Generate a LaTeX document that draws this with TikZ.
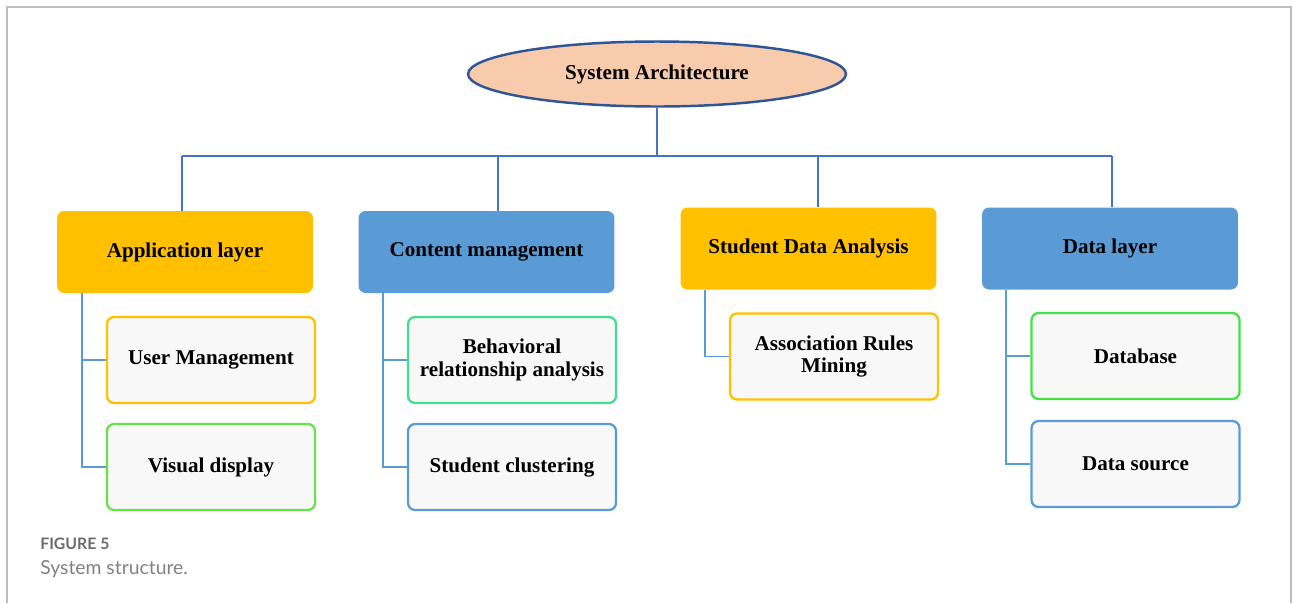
\documentclass[tikz,border=0pt]{standalone}
\usepackage{fontspec}
\setmainfont{Liberation Serif}
\newfontfamily\capfont{Lato}
\usepackage{tikz}
\usetikzlibrary{shapes.geometric}
\definecolor{peach}{HTML}{F8CBAD}
\definecolor{sysblue}{HTML}{2F5597}
\definecolor{busblue}{HTML}{4472C4}
\definecolor{gold}{HTML}{FFC000}
\definecolor{steel}{HTML}{5B9BD5}
\definecolor{boxgray}{HTML}{F8F8F8}
\definecolor{vgreen}{HTML}{66E24A}
\definecolor{tgreen}{HTML}{42DC92}
\definecolor{dgreen}{HTML}{45E245}
\definecolor{framegray}{HTML}{BDBDBD}
\definecolor{capgray}{HTML}{6B6B6B}

\begin{document}
\begin{tikzpicture}[x=0.02cm, y=-0.02cm,
  every node/.style={font=\fontsize{12}{13}\selectfont\bfseries, align=center},
  layerbox/.style={rectangle, rounded corners=4pt, minimum width=5.12cm, minimum height=1.64cm},
  itembox/.style={rectangle, rounded corners=4pt, line width=1.3pt, fill=boxgray,
                  minimum width=4.16cm, minimum height=1.72cm},
  bus/.style={draw=busblue, line width=0.9pt},
  link/.style={draw=steel, line width=1.1pt}]
\useasboundingbox (0,0) rectangle (1293,603);
% frame
\draw[framegray, line width=1.2pt] (7,603) -- (7,7) -- (1291,7) -- (1291,603);
% top
\node[ellipse, draw=sysblue, line width=1.4pt, fill=peach,
      minimum width=7.56cm, minimum height=1.3cm] (sys) at (657,74) {System Architecture};
% layers
\node[layerbox, fill=gold]  (app) at (185,252)    {Application layer};
\node[layerbox, fill=steel] (cm)  at (486.5,252)  {Content management};
\node[layerbox, fill=gold]  (sda) at (808.5,248.5) {Student Data Analysis};
\node[layerbox, fill=steel] (dl)  at (1110,248.5) {Data layer};
% items
\node[itembox, draw=gold]   (um)  at (211,360)     {User Management};
\node[itembox, draw=vgreen] (vd)  at (211,467)     {Visual display};
\node[itembox, draw=tgreen] (bra) at (512,360)     {Behavioral\\relationship analysis};
\node[itembox, draw=steel]  (sc)  at (512,467)     {Student clustering};
\node[itembox, draw=gold]   (arm) at (834,356.5)   {Association Rules\\Mining};
\node[itembox, draw=dgreen] (db)  at (1135.5,356)  {Database};
\node[itembox, draw=steel]  (ds)  at (1135.5,464)  {Data source};
% bus
\coordinate (hub) at (657,156);
\foreach \n/\x in {app/182, cm/498, sda/818, dl/1112}{
  \coordinate (d-\n) at (\x,156);
  \draw[bus] (d-\n) -- (d-\n |- \n.north);
}
\draw[bus] (sys.south) -- (hub);
\draw[bus] (d-app) -- (d-dl);
% branches
\foreach \n/\x/\a/\b in {app/82/um/vd, cm/383/bra/sc, dl/1006/db/ds}{
  \coordinate (t-\n) at (\x,0);
  \draw[link] (\n.south -| t-\n) |- (\a.west);
  \draw[link] (\n.south -| t-\n) |- (\b.west);
}
\coordinate (t-sda) at (705,0);
\draw[link] (sda.south -| t-sda) |- (arm.west);
% caption
\node[font=\capfont\bfseries\fontsize{9}{10}\selectfont, text=capgray,
      anchor=base west, inner sep=0] (fig) at (40,549) {FIGURE 5};
\node[font=\capfont\fontsize{11}{12}\selectfont, text=capgray!85,
      anchor=base west, inner sep=0] (cap) at (40,574) {System structure.};
\end{tikzpicture}
\end{document}
